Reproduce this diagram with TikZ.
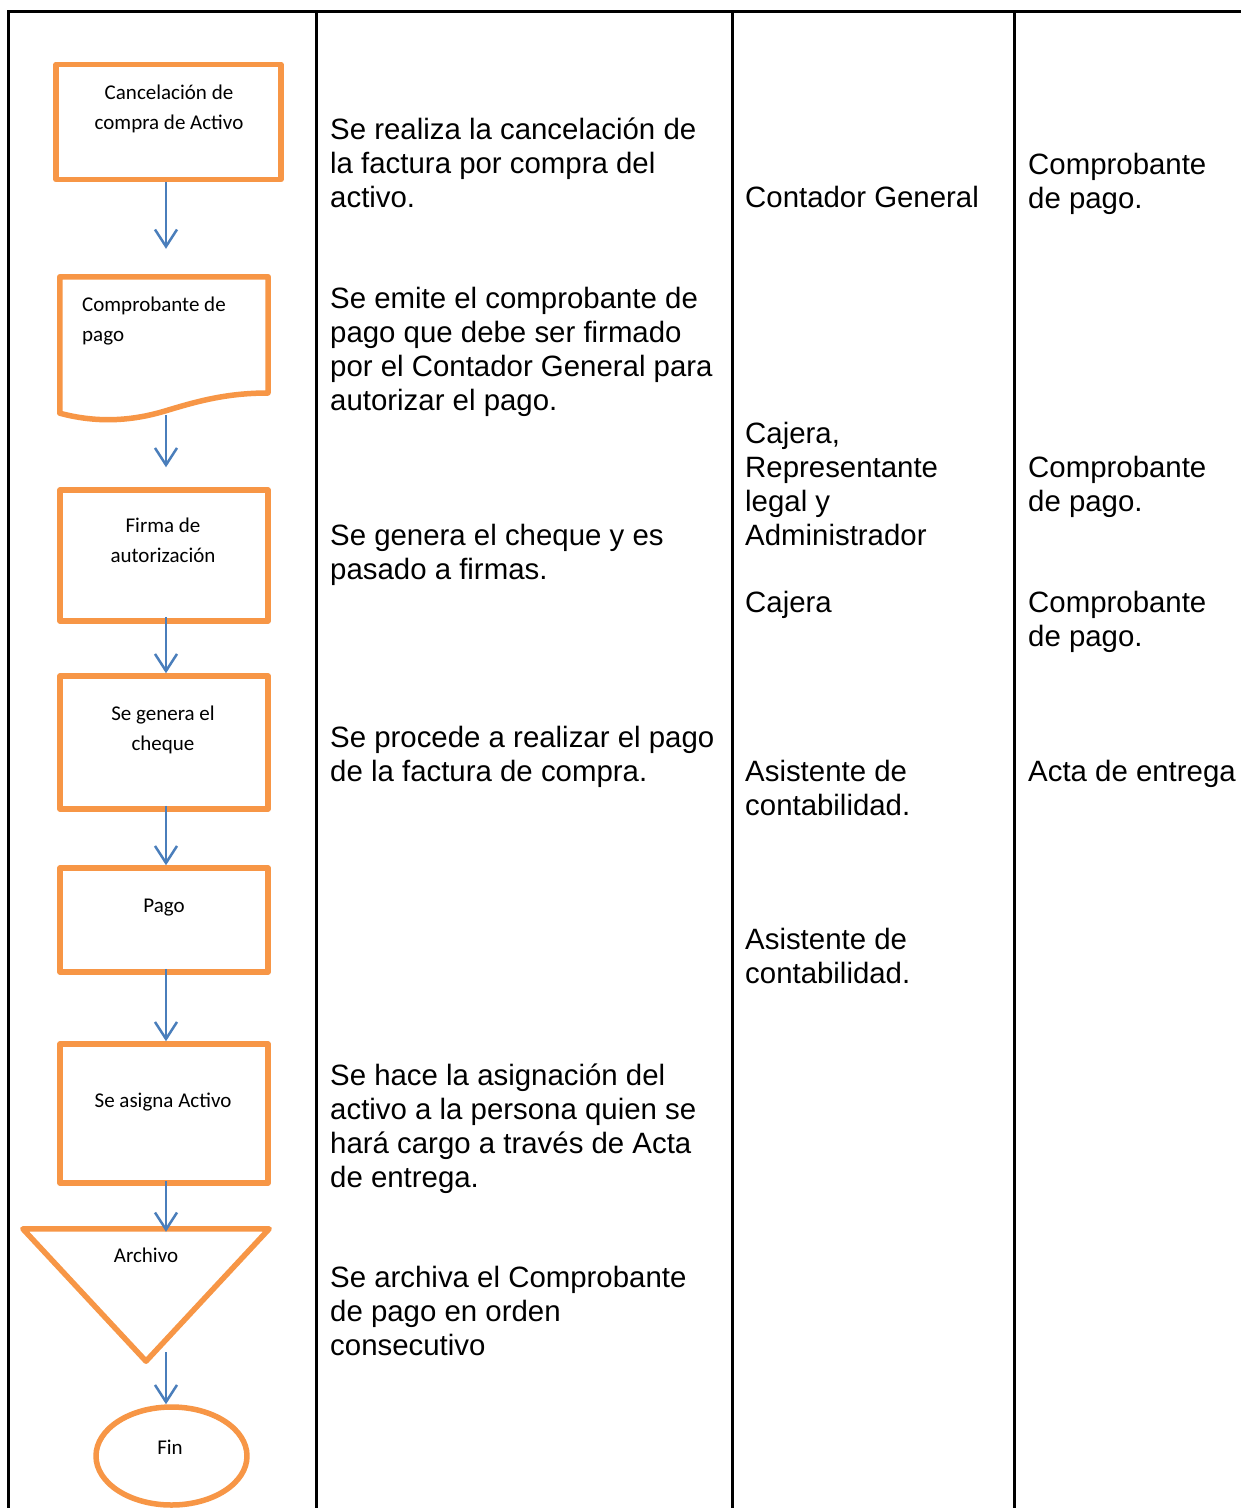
\documentclass[tikz,border=0pt]{standalone}
\usepackage{fontspec}
\setmainfont{Liberation Sans}
\newfontfamily\boxfont{Carlito}
\usetikzlibrary{arrows.meta,shapes.geometric}
\definecolor{orng}{HTML}{F79646}
\definecolor{arrblue}{HTML}{4A7EBB}
\newcommand{\tstrut}{\rule{0pt}{24pt}}
\newcommand{\bstrut}{\rule{0pt}{18pt}}
\begin{document}
\begin{tikzpicture}[x=1pt,y=-1pt,
 grid/.style={line width=3pt, black},
 shp/.style={draw=orng, line width=5.5pt, line join=round, inner sep=0pt},
 box/.style={shp, rectangle, minimum width=208pt},
 btxt/.style={font=\boxfont\fontsize{21}{30}\selectfont, inner sep=0pt, align=center, anchor=north},
 ctxt/.style={font=\fontsize{29.4}{34}\selectfont, inner sep=0pt, align=left, anchor=north west},
 flow/.style={draw=arrblue, line width=2.5pt, -{Straight Barb[length=17pt,width=22pt]}},
]
\useasboundingbox (0,0) rectangle (1241,1508);
\fill[white] (0,0) rectangle (1241,1508);

% table grid
\draw[grid] (8,1508) -- (8,11) -- (1241,11);
\draw[grid] (316,11) -- (316,1508);
\draw[grid] (732,11) -- (732,1508);
\draw[grid] (1014,11) -- (1014,1508);

% flow shapes
\node[box, minimum width=225pt, minimum height=115pt] (b1) at (168.5,122) {};
\node[inner sep=0pt, minimum width=208pt, minimum height=136pt] (b2) at (164,345) {};
\draw[shp] (b2.north west) -- (b2.north east) -- (268,393)
  .. controls (225,393) and (195,402) .. (165,411)
  .. controls (135,420) and (100,424) .. (b2.south west) -- cycle;
\node[box, minimum height=131pt] (b3) at (164,555.5) {};
\node[box, minimum height=133pt] (b4) at (164,742.5) {};
\node[box, minimum height=104pt] (b5) at (164,920) {};
\node[box, minimum height=139pt] (b6) at (164,1113.5) {};
\node[inner sep=0pt, minimum width=246pt, minimum height=132pt] (b7) at (146,1295) {};
\draw[shp] (b7.north west) -- (b7.north east) -- (b7.south) -- cycle;
\node[shp, ellipse, minimum width=151pt, minimum height=98pt] (b8) at (171.5,1456) {};

% texts in shapes
\node[btxt] (t1) at (169,81) {\bstrut Cancelación de\\compra de Activo};
\node[btxt, anchor=north west, align=left] (t2) at (82,293) {\bstrut Comprobante de\\pago};
\node[btxt] (t3) at (163,514) {\bstrut Firma de\\autorización};
\node[btxt] (t4) at (163,702) {\bstrut Se genera el\\cheque};
\node[btxt] (t5) at (164,894) {\bstrut Pago};
\node[btxt] (t6) at (163,1089) {\bstrut Se asigna Activo};
\node[btxt] (t7) at (146,1244) {\bstrut Archivo};
\node[btxt] (t8) at (170,1436) {\bstrut Fin};

% connectors
\coordinate (ax) at (166,0);
\draw[flow, shorten >=28pt] (b1.south -| ax) -- (b2.north -| ax);
\draw[flow, shorten <=2pt, shorten >=20pt] (b2.south -| ax) -- (b3.north -| ax);
\draw[flow, shorten <=-7pt] (b3.south -| ax) -- (b4.north -| ax);
\draw[flow, shorten <=-6pt] (b4.south -| ax) -- (b5.north -| ax);
\draw[flow, shorten <=-6pt] (b5.south -| ax) -- (b6.north -| ax);
\draw[flow, shorten <=-5pt, shorten >=-3pt] (b6.south -| ax) -- (b7.north -| ax);
\draw[flow, shorten <=-9pt] (b7.south -| ax) -- (b8.north -| ax);

% column 2: descriptions
\node[ctxt] (d1) at (330,115) {\tstrut Se realiza la cancelación de\\la factura por compra del\\activo.};
\node[ctxt] (d2) at (330,284) {\tstrut Se emite el comprobante de\\pago que debe ser firmado\\por el Contador General para\\autorizar el pago.};
\node[ctxt] (d3) at (330,521) {\tstrut Se genera el cheque y es\\pasado a firmas.};
\node[ctxt] (d4) at (330,723) {\tstrut Se procede a realizar el pago\\de la factura de compra.};
\node[ctxt] (d5) at (330,1061) {\tstrut Se hace la asignación del\\activo a la persona quien se\\hará cargo a través de Acta\\de entrega.};
\node[ctxt] (d6) at (330,1263) {\tstrut Se archiva el Comprobante\\de pago en orden\\consecutivo};

% column 3: responsible
\node[ctxt] (r1) at (745,183) {\tstrut Contador General};
\node[ctxt] (r2) at (745,419) {\tstrut Cajera,\\Representante\\legal y\\Administrador};
\node[ctxt] (r3) at (745,588) {\tstrut Cajera};
\node[ctxt] (r4) at (745,757) {\tstrut Asistente de\\contabilidad.};
\node[ctxt] (r5) at (745,925) {\tstrut Asistente de\\contabilidad.};

% column 4: documents
\node[ctxt] (k1) at (1028,150) {\tstrut Comprobante\\de pago.};
\node[ctxt] (k2) at (1028,453) {\tstrut Comprobante\\de pago.};
\node[ctxt] (k3) at (1028,588) {\tstrut Comprobante\\de pago.};
\node[ctxt] (k4) at (1028,757) {\tstrut Acta de entrega};
\end{tikzpicture}
\end{document}
